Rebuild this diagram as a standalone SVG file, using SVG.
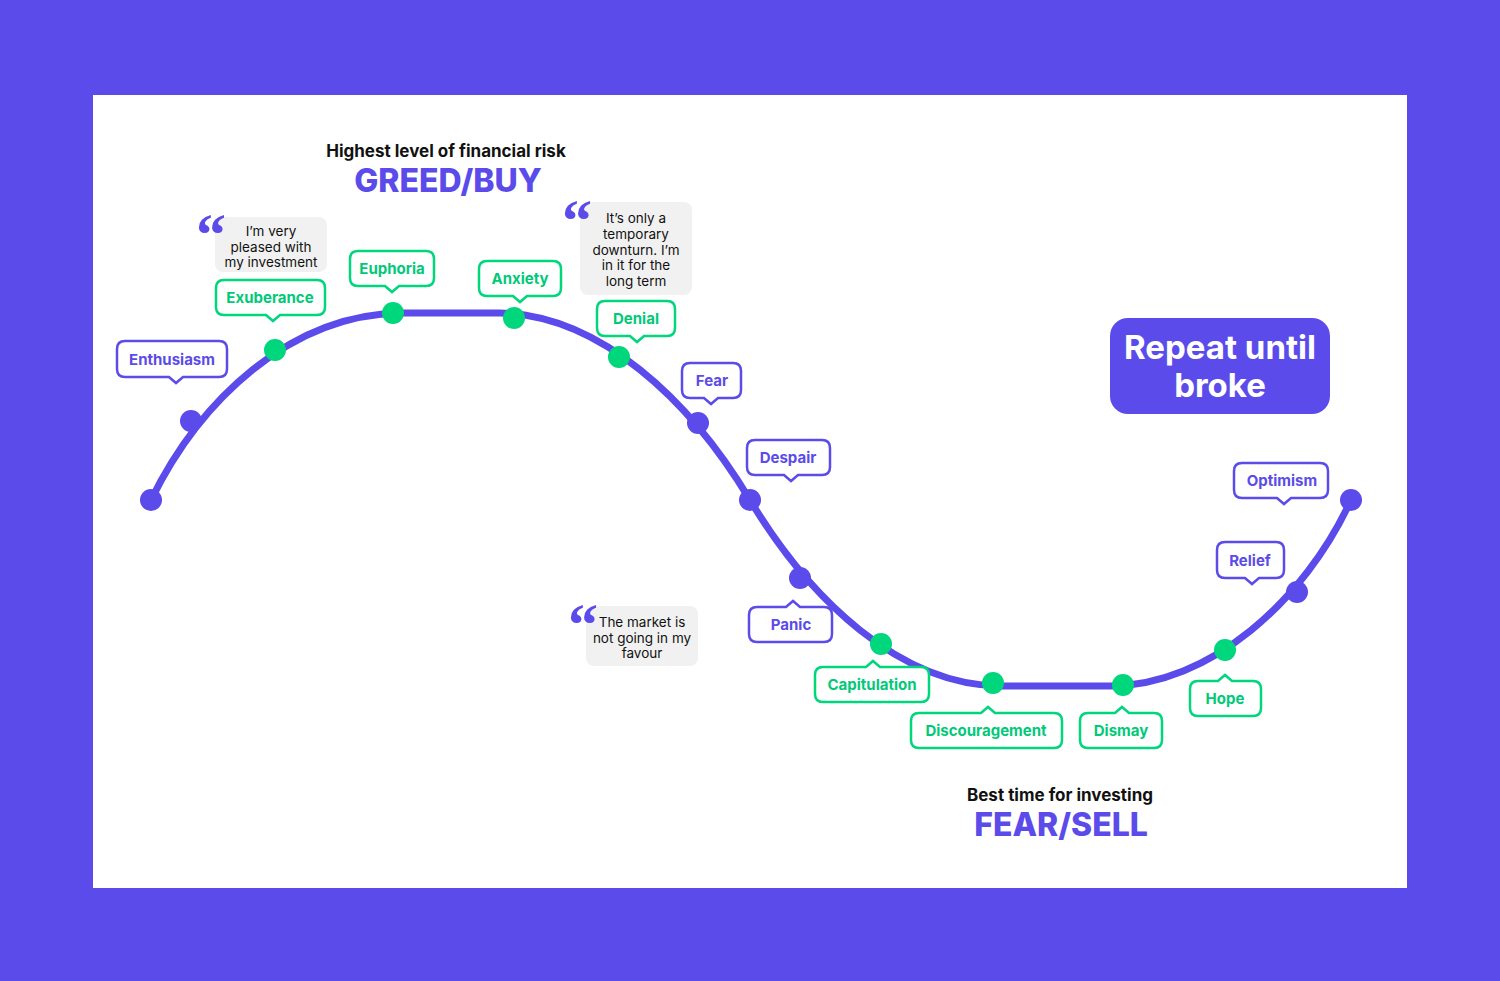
<svg xmlns="http://www.w3.org/2000/svg" width="1500" height="981" viewBox="0 0 1500 981">
<style>
.t{font-family:Inter,"Liberation Sans",sans-serif;font-weight:700;font-size:15px;text-anchor:middle}
.p{fill:#fff;stroke:#5b4bea;stroke-width:2.5}
.g{fill:#fff;stroke:#00d67c;stroke-width:2.5}
.pt{fill:#5b4bea}.gt{fill:#00c978}
.q{fill:#f1f1f1}
.qt{font-family:Inter,"Liberation Sans",sans-serif;font-size:13.5px;text-anchor:middle;fill:#111}
.qm{font-family:"Liberation Serif",serif;font-size:60px;font-weight:700;fill:#5b4bea}
</style>
<rect width="1500" height="981" fill="#5b4bea"/>
<rect x="93" y="95" width="1314" height="793" fill="#fff"/>
<g id="titles">
<text x="446" y="157" style="font-family:Inter,'Liberation Sans',sans-serif;font-weight:700;font-size:17px;text-anchor:middle" fill="#111">Highest level of financial risk</text>
<text x="448" y="192" style="font-family:Inter,'Liberation Sans',sans-serif;font-weight:800;font-size:32px;text-anchor:middle" fill="#5b4bea">GREED/BUY</text>
<text x="1060" y="801" style="font-family:Inter,'Liberation Sans',sans-serif;font-weight:700;font-size:17px;text-anchor:middle" fill="#111">Best time for investing</text>
<text x="1061" y="836" style="font-family:Inter,'Liberation Sans',sans-serif;font-weight:800;font-size:32px;text-anchor:middle" fill="#5b4bea">FEAR/SELL</text>
</g>
<g id="repeat">
<rect x="1110" y="318" width="220" height="96" rx="18" fill="#5b4bea"/>
<text x="1220" y="359" style="font-family:Inter,'Liberation Sans',sans-serif;font-weight:700;font-size:33px;text-anchor:middle" fill="#fff">Repeat until</text>
<text x="1220" y="397" style="font-family:Inter,'Liberation Sans',sans-serif;font-weight:700;font-size:33px;text-anchor:middle" fill="#fff">broke</text>
</g>
<g id="connectors">
<path d="M151,500 C200,400 290,315 400,313 L500,313 C600,315 690,400 750,500 C810,600 900,685 1000,686 L1110,686 C1210,686 1305,600 1351,500" fill="none" stroke="#5b4bea" stroke-width="7" stroke-linecap="round"/>
</g>
<g id="dots">
<g fill="#5b4bea"><circle cx="151" cy="500" r="11"/><circle cx="191" cy="421" r="11"/><circle cx="698" cy="423" r="11"/><circle cx="750" cy="500" r="11"/><circle cx="800" cy="578" r="11"/><circle cx="1297" cy="592" r="11"/><circle cx="1351" cy="500" r="11"/></g>
<g fill="#00d67c"><circle cx="275" cy="350" r="11"/><circle cx="393" cy="313" r="11"/><circle cx="514" cy="318" r="11"/><circle cx="619" cy="357" r="11"/><circle cx="881" cy="644" r="11"/><circle cx="993" cy="683" r="11"/><circle cx="1123" cy="685" r="11"/><circle cx="1225" cy="650" r="11"/></g>
</g>
<g id="enthusiasm"><path class="p" d="M125,341 H219 Q227,341 227,349 V369 Q227,377 219,377 H183 L176,383 L169,377 H125 Q117,377 117,369 V349 Q117,341 125,341 Z"/><text class="t pt" x="172" y="365">Enthusiasm</text></g>
<g id="exuberance"><path class="g" d="M224,280 H317 Q325,280 325,288 V307 Q325,315 317,315 H280 L273,321 L266,315 H224 Q216,315 216,307 V288 Q216,280 224,280 Z"/><text class="t gt" x="270" y="303">Exuberance</text></g>
<g id="euphoria"><path class="g" d="M358,251 H426 Q434,251 434,259 V278 Q434,286 426,286 H399 L392,292 L385,286 H358 Q350,286 350,278 V259 Q350,251 358,251 Z"/><text class="t gt" x="392" y="274">Euphoria</text></g>
<g id="anxiety"><path class="g" d="M487,261 H553 Q561,261 561,269 V288 Q561,296 553,296 H527 L520,302 L513,296 H487 Q479,296 479,288 V269 Q479,261 487,261 Z"/><text class="t gt" x="520" y="284">Anxiety</text></g>
<g id="denial"><path class="g" d="M605,301 H667 Q675,301 675,309 V328 Q675,336 667,336 H644 L637,342 L630,336 H605 Q597,336 597,328 V309 Q597,301 605,301 Z"/><text class="t gt" x="636" y="324">Denial</text></g>
<g id="fear"><path class="p" d="M690,363 H733 Q741,363 741,371 V390 Q741,398 733,398 H718 L711,404 L704,398 H690 Q682,398 682,390 V371 Q682,363 690,363 Z"/><text class="t pt" x="712" y="386">Fear</text></g>
<g id="despair"><path class="p" d="M755,440 H822 Q830,440 830,448 V467 Q830,475 822,475 H798 L791,481 L784,475 H755 Q747,475 747,467 V448 Q747,440 755,440 Z"/><text class="t pt" x="788" y="463">Despair</text></g>
<g id="optimism"><path class="p" d="M1242,463 H1320 Q1328,463 1328,471 V490 Q1328,498 1320,498 H1291 L1284,504 L1277,498 H1242 Q1234,498 1234,490 V471 Q1234,463 1242,463 Z"/><text class="t pt" x="1282" y="486">Optimism</text></g>
<g id="relief"><path class="p" d="M1225,542 H1276 Q1284,542 1284,550 V570 Q1284,578 1276,578 H1259 L1252,584 L1245,578 H1225 Q1217,578 1217,570 V550 Q1217,542 1225,542 Z"/><text class="t pt" x="1250" y="566">Relief</text></g>
<g id="panic"><path class="p" d="M757,607 H786 L793,601 L800,607 H824 Q832,607 832,615 V634 Q832,642 824,642 H757 Q749,642 749,634 V615 Q749,607 757,607 Z"/><text class="t pt" x="791" y="630">Panic</text></g>
<g id="capitulation"><path class="g" d="M823,667 H866 L873,661 L880,667 H921 Q929,667 929,675 V694 Q929,702 921,702 H823 Q815,702 815,694 V675 Q815,667 823,667 Z"/><text class="t gt" x="872" y="690">Capitulation</text></g>
<g id="discouragement"><path class="g" d="M919,713 H981 L988,707 L995,713 H1054 Q1062,713 1062,721 V740 Q1062,748 1054,748 H919 Q911,748 911,740 V721 Q911,713 919,713 Z"/><text class="t gt" x="986" y="736">Discouragement</text></g>
<g id="dismay"><path class="g" d="M1088,713 H1115 L1122,707 L1129,713 H1154 Q1162,713 1162,721 V740 Q1162,748 1154,748 H1088 Q1080,748 1080,740 V721 Q1080,713 1088,713 Z"/><text class="t gt" x="1121" y="736">Dismay</text></g>
<g id="hope"><path class="g" d="M1198,681 H1218 L1225,675 L1232,681 H1253 Q1261,681 1261,689 V708 Q1261,716 1253,716 H1198 Q1190,716 1190,708 V689 Q1190,681 1198,681 Z"/><text class="t gt" x="1225" y="704">Hope</text></g>
<g id="quote1"><rect class="q" x="215" y="217" width="112" height="55" rx="8"/><text class="qm" x="196" y="255">“</text><text class="qt" x="271" y="236">I’m very</text><text class="qt" x="271" y="252">pleased with</text><text class="qt" x="271" y="267">my investment</text></g>
<g id="quote2"><rect class="q" x="580" y="202" width="112" height="93" rx="8"/><text class="qm" x="562" y="241">“</text><text class="qt" x="636" y="223">It’s only a</text><text class="qt" x="636" y="239">temporary</text><text class="qt" x="636" y="255">downturn. I’m</text><text class="qt" x="636" y="270">in it for the</text><text class="qt" x="636" y="286">long term</text></g>
<g id="quote3"><rect class="q" x="586" y="606" width="112" height="60" rx="8"/><text class="qm" x="568" y="645">“</text><text class="qt" x="642" y="627">The market is</text><text class="qt" x="642" y="643">not going in my</text><text class="qt" x="642" y="658">favour</text></g>
</svg>
